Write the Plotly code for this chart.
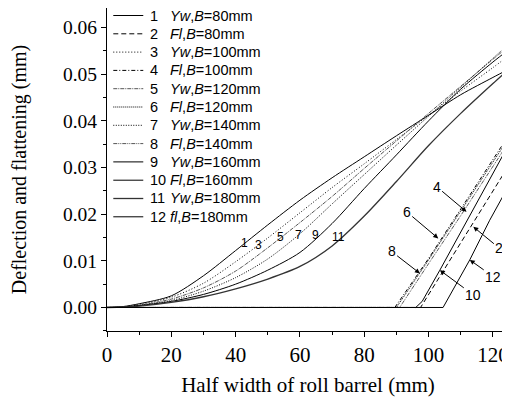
import plotly.graph_objects as go

# ---------------- data ----------------
x_yw = [0, 5, 10, 20, 30, 40, 50, 60, 70, 80, 90, 100, 110, 120, 125]
yw_80 = [0, 0.0002, 0.0008, 0.0025, 0.0068, 0.0122, 0.0177, 0.0230, 0.0278, 0.0323, 0.0368, 0.0412, 0.0456, 0.0493, 0.0511]
yw_100 = [0, 0.0001, 0.0006, 0.0022, 0.0052, 0.0098, 0.0149, 0.0203, 0.0257, 0.0308, 0.0360, 0.0412, 0.0464, 0.0514, 0.0540]
yw_120 = [0, 0.0001, 0.0005, 0.0018, 0.0042, 0.0078, 0.0128, 0.0182, 0.0238, 0.0298, 0.0357, 0.0416, 0.0474, 0.0532, 0.0560]
yw_140 = [0, 0.0001, 0.0004, 0.0015, 0.0035, 0.0064, 0.0104, 0.0158, 0.0222, 0.0285, 0.0348, 0.0410, 0.0472, 0.0534, 0.0565]
yw_160 = [0, 0.0001, 0.0004, 0.0013, 0.0028, 0.0050, 0.0080, 0.0118, 0.0180, 0.0255, 0.0327, 0.0400, 0.0468, 0.0526, 0.0553]
yw_180 = [0, 0.0001, 0.0003, 0.0011, 0.0023, 0.0040, 0.0061, 0.0088, 0.0132, 0.0196, 0.0270, 0.0347, 0.0416, 0.0480, 0.0511]

fl_80_x = [0, 97.5, 125]
fl_80 = [0, 0, 0.0305]
fl_100_x = [0, 89.5, 100, 110, 125]
fl_100 = [0, 0, 0.0105, 0.0212, 0.0370]
fl_120_x = [0, 90, 100, 110, 125]
fl_120 = [0, 0, 0.0102, 0.0207, 0.0364]
fl_140_x = [0, 91, 100, 110, 125]
fl_140 = [0, 0, 0.0094, 0.0197, 0.0355]
fl_160_x = [0, 96, 98, 103.5, 125]
fl_160 = [0, 0, 0.0013, 0.0080, 0.0350]
fl_180_x = [0, 104.5, 112.8, 119, 125]
fl_180 = [0, 0, 0.0102, 0.0187, 0.0262]

series_numbers = ["1", "2", "3", "4", "5", "6", "7", "8", "9", "10", "11", "12"]
series_names = [
    "<i>Yw</i>,<i>B</i>=80mm", "<i>Fl</i>,<i>B</i>=80mm",
    "<i>Yw</i>,<i>B</i>=100mm", "<i>Fl</i>,<i>B</i>=100mm",
    "<i>Yw</i>,<i>B</i>=120mm", "<i>Fl</i>,<i>B</i>=120mm",
    "<i>Yw</i>,<i>B</i>=140mm", "<i>Fl</i>,<i>B</i>=140mm",
    "<i>Yw</i>,<i>B</i>=160mm", "<i>Fl</i>,<i>B</i>=160mm",
    "<i>Yw</i>,<i>B</i>=180mm", "<i>fl</i>,<i>B</i>=180mm",
]
series_x = [x_yw, fl_80_x, x_yw, fl_100_x, x_yw, fl_120_x, x_yw, fl_140_x, x_yw, fl_160_x, x_yw, fl_180_x]
series_y = [yw_80, fl_80, yw_100, fl_100, yw_120, fl_120, yw_140, fl_140, yw_160, fl_160, yw_180, fl_180]

# curve labels on the Yw curves
curve_label_text = ["1", "3", "5", "7", "9", "11"]
curve_label_x = [42.9, 47.2, 53.8, 59.4, 64.7, 72.1]
curve_label_y = [0.0138, 0.0134, 0.0151, 0.0155, 0.0155, 0.0151]

# arrow labels on the Fl curves
arrow_text = ["4", "6", "8", "2", "12", "10"]
arrow_tip_x = [111.8, 103.0, 97.3, 113.9, 112.8, 103.5]
arrow_tip_y = [0.0205, 0.0148, 0.0073, 0.0173, 0.0102, 0.0080]
arrow_tail_x = [102.5, 93.2, 88.5, 122.0, 120.1, 113.9]
arrow_tail_y = [0.0259, 0.0205, 0.0120, 0.0127, 0.0066, 0.0027]

# ---------------- styles ----------------
styles = [
    dict(color="black", width=1, dash="solid"),
    dict(color="black", width=1, dash="5px,3px"),
    dict(color="black", width=1, dash="1px,2px"),
    dict(color="black", width=1, dash="4px,2px,1px,2px"),
    dict(color="#555555", width=1, dash="4px,1px,1px,1px"),
    dict(color="black", width=1, dash="1px,1px"),
    dict(color="black", width=1, dash="1px,1.5px"),
    dict(color="#555555", width=1, dash="4px,1px,1px,1px,1px,1px"),
    dict(color="black", width=1, dash="solid"),
    dict(color="black", width=1, dash="solid"),
    dict(color="#333333", width=1.3, dash="solid"),
    dict(color="black", width=1, dash="solid"),
]

# The page body has an 8px margin; size the figure so the page does not overflow
# the 510x405 window.
OFF = 8
W, H = 510 - OFF, 405 - 2 * OFF
ML, MR, MT, MB = 98.7, 1, 0, 66
PW, PH = W - ML - MR, H - MT - MB


def px_to_paper_x(px):
    return (px - ML) / PW


def px_to_paper_y(py):
    return (H - MB - py) / PH


fig = go.Figure()
for i in range(len(series_numbers)):
    is_yw = (i % 2 == 0)
    fig.add_trace(go.Scatter(
        x=series_x[i], y=series_y[i], mode="lines",
        name=series_numbers[i] + " " + series_names[i],
        line=dict(color=styles[i]["color"], width=styles[i]["width"], dash=styles[i]["dash"],
                  shape="spline" if is_yw else "linear", smoothing=0.8 if is_yw else None),
        showlegend=False, hoverinfo="skip",
    ))

shapes = []
annotations = []
# manual legend (rows are 18.3 px apart)
leg_font = dict(family="Liberation Sans, Arial, sans-serif", size=14.5, color="black")
for i in range(len(series_numbers)):
    ypx = 7.5 + 18.3 * i
    yp = px_to_paper_y(ypx)
    shapes.append(dict(type="line", xref="paper", yref="paper",
                       x0=px_to_paper_x(105), x1=px_to_paper_x(135), y0=yp, y1=yp,
                       line=dict(color=styles[i]["color"], width=styles[i]["width"], dash=styles[i]["dash"])))
    annotations.append(dict(xref="paper", yref="paper", x=px_to_paper_x(140), y=yp,
                            text=series_numbers[i], showarrow=False, xanchor="left", yanchor="middle",
                            font=leg_font))
    annotations.append(dict(xref="paper", yref="paper", x=px_to_paper_x(160), y=yp,
                            text=series_names[i], showarrow=False, xanchor="left", yanchor="middle",
                            font=leg_font))

lab_font = dict(family="Liberation Sans, Arial, sans-serif", size=12, color="black")
for t, x, y in zip(curve_label_text, curve_label_x, curve_label_y):
    annotations.append(dict(x=x, y=y, xref="x", yref="y", text=t, showarrow=False, font=lab_font))

arr_font = dict(family="Liberation Sans, Arial, sans-serif", size=14, color="black")
for t, x, y, ax, ay in zip(arrow_text, arrow_tip_x, arrow_tip_y, arrow_tail_x, arrow_tail_y):
    annotations.append(dict(x=x, y=y, xref="x", yref="y", ax=ax, ay=ay, axref="x", ayref="y",
                            text=t, showarrow=True, arrowhead=2, arrowsize=1, arrowwidth=1,
                            arrowcolor="black", font=arr_font))

serif = "Liberation Serif, Times New Roman, serif"
fig.update_layout(
    width=W, height=H,
    margin=dict(l=ML, r=MR, t=MT, b=MB),
    paper_bgcolor="white", plot_bgcolor="white",
    showlegend=False,
    shapes=shapes, annotations=annotations,
    xaxis=dict(
        range=[0, 125], tickmode="linear", tick0=0, dtick=20,
        showline=True, linecolor="black", linewidth=1, mirror=False,
        ticks="outside", ticklen=5, tickcolor="black", tickwidth=1,
        minor=dict(ticks="outside", ticklen=3, dtick=10, tickcolor="black", showgrid=False),
        showgrid=False, zeroline=False,
        tickfont=dict(family=serif, size=21, color="black"),
        title=dict(text="Half width of roll barrel (mm)", font=dict(family=serif, size=21, color="black"),
                   standoff=11),
    ),
    yaxis=dict(
        range=[-0.00504, 0.06418], tickmode="linear", tick0=0, dtick=0.01, tickformat=".2f",
        showline=True, linecolor="black", linewidth=1, mirror=True,
        ticks="outside", ticklen=5, tickcolor="black", tickwidth=1,
        minor=dict(ticks="outside", ticklen=3, dtick=0.005, tickcolor="black", showgrid=False),
        showgrid=False, zeroline=False,
        tickfont=dict(family=serif, size=19.5, color="black"),
        title=dict(text="Deflection and flattening (mm)", font=dict(family=serif, size=20, color="black"),
                   standoff=31),
    ),
)

fig.write_html("out.html")
